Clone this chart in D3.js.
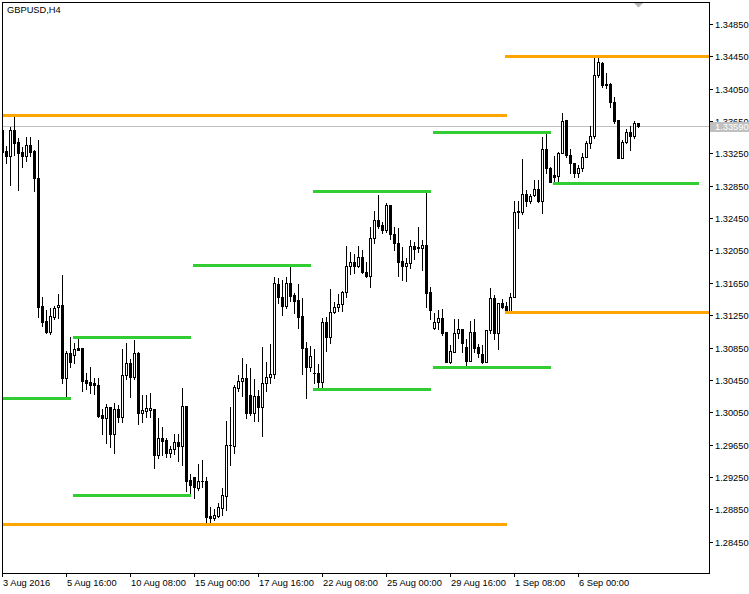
<!DOCTYPE html>
<html><head><meta charset="utf-8">
<script src="https://cdn.jsdelivr.net/npm/d3@7"></script>
<style>body{margin:0;background:#fff}svg{display:block}text{font-family:"Liberation Sans",Arial,sans-serif;font-size:9.3px}</style>
</head><body><svg id="c" width="749" height="594"></svg>
<script>
const symbol = "GBPUSD,H4";
const openP = [1.3354,1.3328,1.3322,1.3354,1.3339,1.3327,1.3322,1.3336,1.3328,1.3295,
1.3136,1.3118,1.3104,1.3123,1.3135,1.3138,1.3047,1.3078,1.3076,1.3085,
1.3085,1.3045,1.3043,1.3041,1.3039,1.3002,1.2998,1.3012,1.2978,1.3009,
1.2999,1.3051,1.3066,1.3049,1.3078,1.3004,1.3007,1.3008,1.3009,1.2952,
1.2973,1.2971,1.2955,1.2960,1.2968,1.2963,1.3013,1.2921,1.2925,1.2912,
1.2920,1.2920,1.2877,1.2874,1.2877,1.2887,1.2902,1.2965,1.2963,1.3035,
1.3044,1.3047,1.3026,1.3004,1.3025,1.3012,1.3041,1.3049,1.3052,1.3164,
1.3148,1.3136,1.3165,1.3150,1.3144,1.3124,1.3085,1.3061,1.3054,1.3054,
1.3043,1.3116,1.3098,1.3129,1.3135,1.3139,1.3154,1.3186,1.3191,1.3186,
1.3197,1.3179,1.3174,1.3221,1.3243,1.3236,1.3230,1.3261,1.3225,1.3214,
1.3192,1.3186,1.3190,1.3211,1.3209,1.3208,1.3212,1.3154,1.3109,1.3116,
1.3122,1.3104,1.3067,1.3080,1.3103,1.3108,1.3086,1.3068,1.3104,1.3086,
1.3077,1.3067,1.3107,1.3146,1.3103,1.3140,1.3136,1.3130,1.3148,1.3253,
1.3253,1.3275,1.3266,1.3274,1.3281,1.3266,1.3331,1.3307,1.3298,1.3297,
1.3326,1.3366,1.3323,1.3313,1.3301,1.3307,1.3321,1.3338,1.3346,1.3422,
1.3437,1.3411,1.3411,1.3389,1.3366,1.3319,1.3339,1.3352,1.3347,1.3363];
const highP = [1.3354,1.3334,1.3358,1.3372,1.3344,1.3333,1.3345,1.3345,1.3329,1.3342,
1.3148,1.3132,1.3134,1.3136,1.3151,1.3175,1.3081,1.3098,1.3091,1.3097,
1.3085,1.3054,1.3061,1.3047,1.3047,1.3009,1.3015,1.3012,1.3017,1.3014,
1.3083,1.3091,1.3071,1.3094,1.3080,1.3026,1.3026,1.3029,1.3009,1.2998,
1.2987,1.2973,1.2963,1.2978,1.2978,1.3035,1.3013,1.2929,1.2925,1.2941,
1.2946,1.2925,1.2888,1.2886,1.2893,1.2912,1.2994,1.3012,1.3039,1.3051,
1.3072,1.3065,1.3060,1.3046,1.3033,1.3086,1.3067,1.3090,1.3172,1.3171,
1.3169,1.3172,1.3185,1.3153,1.3164,1.3146,1.3092,1.3087,1.3083,1.3065,
1.3122,1.3123,1.3158,1.3141,1.3151,1.3155,1.3211,1.3203,1.3201,1.3211,
1.3206,1.3191,1.3234,1.3254,1.3274,1.3240,1.3264,1.3261,1.3234,1.3233,
1.3209,1.3196,1.3218,1.3216,1.3234,1.3218,1.3277,1.3160,1.3128,1.3132,
1.3133,1.3104,1.3088,1.3120,1.3120,1.3108,1.3096,1.3118,1.3120,1.3090,
1.3088,1.3107,1.3159,1.3150,1.3140,1.3145,1.3141,1.3153,1.3266,1.3266,
1.3318,1.3280,1.3275,1.3292,1.3292,1.3345,1.3350,1.3308,1.3322,1.3327,
1.3375,1.3366,1.3331,1.3313,1.3311,1.3326,1.3340,1.3359,1.3445,1.3444,
1.3438,1.3424,1.3412,1.3395,1.3366,1.3342,1.3355,1.3359,1.3365,1.3363];
const lowP = [1.3327,1.3313,1.3286,1.3323,1.3280,1.3308,1.3316,1.3322,1.3279,1.3123,
1.3112,1.3103,1.3102,1.3120,1.3122,1.3041,1.3024,1.3061,1.3066,1.3082,
1.3031,1.3034,1.3029,1.3028,1.2999,1.2978,1.2967,1.2962,1.2955,1.2993,
1.2993,1.3046,1.3024,1.3046,1.2991,1.2993,1.2999,1.2999,1.2936,1.2949,
1.2952,1.2950,1.2950,1.2954,1.2945,1.2940,1.2908,1.2905,1.2899,1.2909,
1.2913,1.2867,1.2868,1.2872,1.2876,1.2878,1.2884,1.2940,1.2955,1.3031,
1.3025,1.2998,1.3002,1.2994,1.2994,1.2976,1.3031,1.3041,1.3047,1.3140,
1.3125,1.3134,1.3143,1.3128,1.3109,1.3052,1.3023,1.3056,1.3041,1.3036,
1.3036,1.3081,1.3091,1.3128,1.3130,1.3130,1.3148,1.3176,1.3177,1.3185,
1.3177,1.3172,1.3160,1.3214,1.3233,1.3227,1.3228,1.3219,1.3206,1.3174,
1.3169,1.3167,1.3183,1.3195,1.3203,1.3181,1.3135,1.3120,1.3108,1.3108,
1.3101,1.3067,1.3066,1.3080,1.3097,1.3080,1.3063,1.3068,1.3080,1.3073,
1.3066,1.3067,1.3103,1.3096,1.3083,1.3134,1.3129,1.3129,1.3147,1.3233,
1.3250,1.3260,1.3264,1.3272,1.3265,1.3251,1.3301,1.3290,1.3290,1.3290,
1.3326,1.3320,1.3301,1.3296,1.3296,1.3303,1.3320,1.3332,1.3344,1.3419,
1.3407,1.3406,1.3382,1.3363,1.3319,1.3319,1.3338,1.3329,1.3344,1.3358];
const closeP = [1.3327,1.3322,1.3354,1.3338,1.3326,1.3322,1.3336,1.3327,1.3295,1.3135,
1.3117,1.3104,1.3124,1.3134,1.3138,1.3047,1.3078,1.3067,1.3083,1.3082,
1.3044,1.3041,1.3039,1.3039,1.3000,1.2998,1.3012,1.2978,1.3009,1.2999,
1.3051,1.3066,1.3049,1.3078,1.3004,1.3008,1.3010,1.3010,1.2952,1.2973,
1.2970,1.2955,1.2960,1.2968,1.2963,1.3013,1.2920,1.2915,1.2913,1.2920,
1.2920,1.2876,1.2874,1.2878,1.2888,1.2903,1.2965,1.2965,1.3036,1.3044,
1.3047,1.3004,1.3004,1.3025,1.3012,1.3041,1.3049,1.3052,1.3165,1.3148,
1.3136,1.3165,1.3149,1.3143,1.3123,1.3085,1.3061,1.3075,1.3054,1.3043,
1.3116,1.3098,1.3129,1.3135,1.3139,1.3154,1.3186,1.3191,1.3186,1.3197,
1.3179,1.3174,1.3221,1.3243,1.3235,1.3230,1.3261,1.3225,1.3214,1.3191,
1.3186,1.3190,1.3211,1.3207,1.3208,1.3212,1.3153,1.3132,1.3117,1.3122,
1.3103,1.3067,1.3081,1.3103,1.3108,1.3091,1.3068,1.3104,1.3085,1.3078,
1.3067,1.3107,1.3146,1.3103,1.3140,1.3135,1.3130,1.3148,1.3253,1.3254,
1.3275,1.3266,1.3272,1.3281,1.3266,1.3331,1.3307,1.3290,1.3296,1.3326,
1.3365,1.3323,1.3313,1.3301,1.3307,1.3321,1.3338,1.3347,1.3422,1.3438,
1.3410,1.3410,1.3389,1.3365,1.3319,1.3339,1.3352,1.3347,1.3363,1.3359];

const timeTickBars = [0,16,32,48,64,80,96,112,128,144];
const timeTickLabels = ["3 Aug 2016","5 Aug 16:00","10 Aug 08:00","15 Aug 00:00","17 Aug 16:00","22 Aug 08:00","25 Aug 00:00","29 Aug 16:00","1 Sep 08:00","6 Sep 00:00"];
const priceTicks = [1.28450,1.28850,1.29250,1.29650,1.30050,1.30450,1.30850,1.31250,1.31650,1.32050,1.32450,1.32850,1.33250,1.33650,1.34050,1.34450,1.34850];
const lastPrice = 1.33590;

// weekly levels (green)
const weekStart = [0,18,48,78,108,138];
const weekEnd   = [18,48,78,108,138,175];
const weekHigh  = [1.3372,1.3098,1.3187,1.3279,1.3352,1.3445];
const weekLow   = [1.3023,1.2903,1.2867,1.3034,1.3061,1.3289];
// monthly levels (orange)
const monthStart = [0,126];
const monthEnd   = [127,null];
const monthHigh  = [1.3372,1.3445];
const monthLow   = [1.2867,1.3129];

const W=749,H=594, L=2, T=2, R=709, B=573;
const svg = d3.select("#c");
svg.append("rect").attr("width",W).attr("height",H).attr("fill","#fff");

const x = d3.scaleLinear().domain([0,159]).range([2,638]);
const y = d3.scaleLinear().domain([1.2845,1.3485]).range([541.7,24]);
const yr = v => Math.round(y(v));

const defs = svg.append("defs");
defs.append("clipPath").attr("id","clip").append("rect")
  .attr("x",L+1).attr("y",T+1).attr("width",R-L-1).attr("height",B-T-1);
const ly = yr(lastPrice);
defs.append("clipPath").attr("id","above").append("rect")
  .attr("x",R).attr("y",0).attr("width",W-R).attr("height",ly-4);
const g = svg.append("g").attr("clip-path","url(#clip)");

// current price line
g.append("line").attr("x1",L).attr("x2",R).attr("y1",ly+0.5).attr("y2",ly+0.5)
  .attr("stroke","#c0c0c0").attr("stroke-width",1);

// candles
const bars = d3.range(openP.length).map(i=>({i,o:openP[i],h:highP[i],l:lowP[i],c:closeP[i]}));
const cg = g.append("g");
bars.forEach(d=>{
  const cx = Math.round(x(d.i));
  cg.append("line").attr("x1",cx+0.5).attr("x2",cx+0.5).attr("y1",yr(d.h)).attr("y2",yr(d.l)+1)
    .attr("stroke","#000").attr("stroke-width",1);
  const top = yr(Math.max(d.o,d.c)), bot = yr(Math.min(d.o,d.c));
  if (d.c > d.o && bot-top>=1) {
    cg.append("rect").attr("x",cx-0.5).attr("y",top+0.5).attr("width",2).attr("height",bot-top)
      .attr("fill","#fff").attr("stroke","#000").attr("stroke-width",1);
  } else {
    cg.append("rect").attr("x",cx-1).attr("y",top).attr("width",3).attr("height",bot-top+1).attr("fill","#000");
  }
});

// levels
function level(v,s,e,color){
  const yy = yr(v)+0.5;
  const x1 = s===0 ? L : Math.round(x(s))-1;
  const x2 = e===null ? R : Math.round(x(e))-3;
  g.append("line").attr("x1",x1).attr("x2",x2).attr("y1",yy).attr("y2",yy)
    .attr("stroke",color).attr("stroke-width",3);
}
weekStart.forEach((s,k)=>{ level(weekHigh[k],s,weekEnd[k],"#32cd32"); level(weekLow[k],s,weekEnd[k],"#32cd32"); });
monthStart.forEach((s,k)=>{ level(monthHigh[k],s,monthEnd[k],"#ffa500"); level(monthLow[k],s,monthEnd[k],"#ffa500"); });

// frame
svg.append("rect").attr("x",L+0.5).attr("y",T+0.5).attr("width",R-L).attr("height",B-T)
  .attr("fill","none").attr("stroke","#000").attr("stroke-width",1);

// shift marker
svg.append("path").attr("d","M634,3L643,3L638.5,7.5Z").attr("fill","#b4b4b4");

// title
svg.append("text").attr("x",7).attr("y",13).attr("fill","#000").text(symbol);

// price axis
const pa = svg.append("g");
priceTicks.forEach(v=>{
  const yy = yr(v);
  pa.append("line").attr("x1",R+1).attr("x2",R+4).attr("y1",yy+0.5).attr("y2",yy+0.5).attr("stroke","#000");
  const t = pa.append("text").attr("x",R+6).attr("y",yy+3.6).attr("fill","#000").text(v.toFixed(5));
  if (Math.abs(yy-ly) < 10) t.attr("clip-path","url(#above)");
});
// last price label
pa.append("rect").attr("x",R+1).attr("y",ly-4).attr("width",W-R-1).attr("height",10).attr("fill","#c0c0c0");
pa.append("text").attr("x",R+6).attr("y",ly+4).attr("fill","#fff").text(lastPrice.toFixed(5));

// time axis
const ta = svg.append("g");
timeTickBars.forEach((b,k)=>{
  const xx = Math.round(x(b));
  ta.append("line").attr("x1",xx+0.5).attr("x2",xx+0.5).attr("y1",B+1).attr("y2",B+4).attr("stroke","#000");
  ta.append("text").attr("x",xx+1).attr("y",586).attr("fill","#000").text(timeTickLabels[k]);
});
</script></body></html>
